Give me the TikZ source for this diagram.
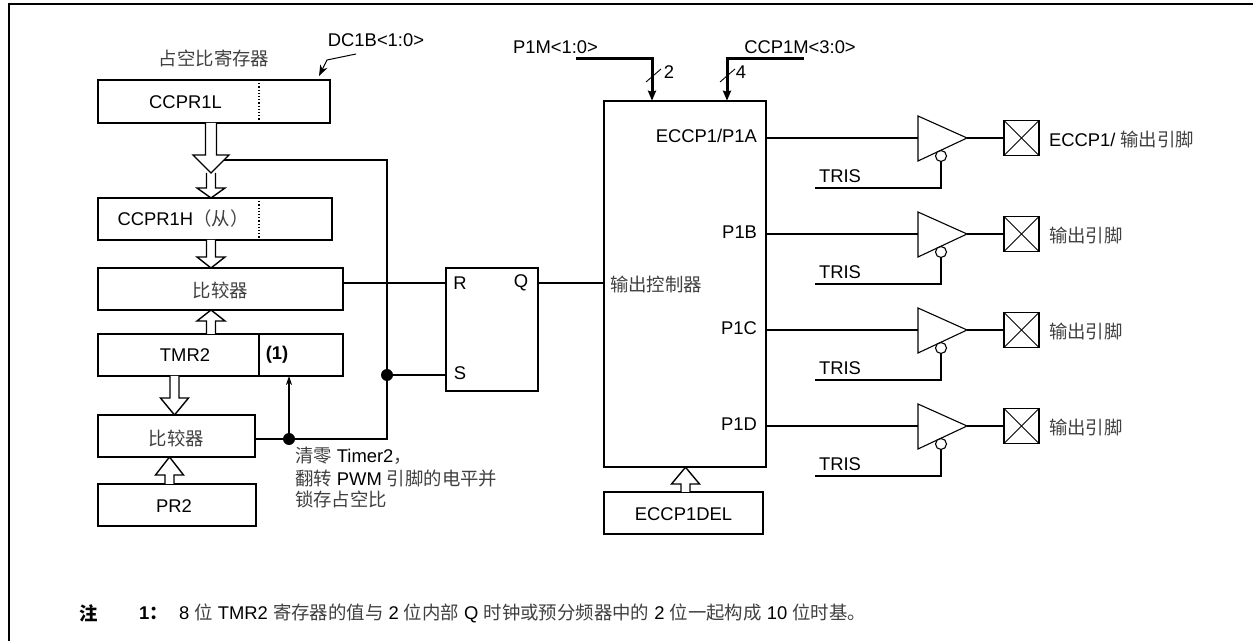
\documentclass[tikz,border=0pt]{standalone}
\usepackage{fontspec}
\usetikzlibrary{arrows.meta}
\setmainfont{Liberation Sans}
\newfontfamily\cjk{Noto Sans CJK SC}
\newcommand{\zh}[1]{{\cjk\color{black!75}#1}}
\newcommand{\basefont}{\fontsize{9.2}{11.25}\selectfont}

\begin{document}
\begin{tikzpicture}[>=stealth, x=0.5pt, y=-0.5pt,
    every node/.style={font=\basefont, inner sep=0pt, outer sep=0pt},
    regbox/.style={draw, line width=0.8pt},
    wire/.style={line width=0.8pt},
    bus/.style={line width=1.5pt},
    thinline/.style={line width=0.45pt},
    hollow/.style={draw, fill=white, line width=0.7pt},
    dotnode/.style={circle, fill=black, minimum size=6pt}]

    \useasboundingbox (0,0) rectangle (1253,641);

    % --- 1. 外枠 ---
    \draw[line width=1pt] (9,641) -- (9,4) -- (1253,4);

    % --- 2. レジスタと比較器の箱 ---
    \foreach \nm/\cx/\cy/\w/\h in {ccprl/214/101.5/232/43, ccprh/215/219/234/42,
        cmpa/220.5/289/245/42, tmr/220.5/355/245/42, cmpb/176.5/436/157/42,
        prr/177/505/158/42, ff/492/329.5/92/123, ctrl/685/284/162/366.5, delay/683.5/513/159/42} {
        \node[regbox, minimum width=\w*0.5pt, minimum height=\h*0.5pt] (\nm) at (\cx,\cy) {};
    }
    \draw[line width=0.6pt, densely dotted] (259,0 |- ccprl.north) -- (259,0 |- ccprl.south);
    \draw[line width=0.6pt, densely dotted] (259,0 |- ccprh.north) -- (259,0 |- ccprh.south);
    \draw[wire] (259,0 |- tmr.north) -- (259,0 |- tmr.south);

    % --- 3. 文字 ---
    \node (ccprltxt) at (185.5,102) {CCPR1L};
    \node (ccprhtxt) at (183,219) {CCPR1H\zh{（从）}};
    \node (cmpatxt) at (220.5,290) {\zh{比较器}};
    \node (tmrtxt) at (185,355) {TMR2};
    \node (onetxt) at (277,355) {\textbf{(1)}};
    \node (cmpbtxt) at (176.5,438) {\zh{比较器}};
    \node (prrtxt) at (174,506) {PR2};
    \node (dutytxt) at (214,58) {\zh{占空比寄存器}};
    \node (dctxt) at (376,40) {DC1B<1:0>};
    \node (pmtxt) at (555.5,47) {P1M<1:0>};
    \node (ccpmtxt) at (800,47) {CCP1M<3:0>};
    \node (rtxt) at (460,283) {R};
    \node (stxt) at (460,373) {S};
    \node (qtxt) at (521,283) {Q};
    \node (ctrltxt) at (656,284) {\zh{输出控制器}};
    \node (delaytxt) at (683.5,514) {ECCP1DEL};
    \node (twotxt) at (669,72) {2};
    \node (fourtxt) at (741,72) {4};
    \node[anchor=north west, align=left] (cleartxt) at (295,447) {\zh{清零} Timer2\zh{，}\\[0.3pt]\zh{翻转} PWM \zh{引脚的电平并}\\[-0.7pt]\zh{锁存占空比}};
    \node[anchor=west] (notetxt) at (79,613) {{\cjk\bfseries 注}};
    \node[anchor=west] (numtxt) at (139,613) {\textbf{1}{\cjk\bfseries ：}};
    \node[anchor=west] (bodytxt) at (179,613) {8 \zh{位} TMR2 \zh{寄存器的值与} 2 \zh{位内部} Q \zh{时钟或预分频器中的} 2 \zh{位一起构成} 10 \zh{位时基。}};

    % --- 4. 白抜き矢印 ---
    \coordinate (tipa) at (211,173);
    \foreach \src/\dst/\ax/\yb/\s/\hw in {tipa/ccprh.north/211/188/4.5/14,
        ccprl.south/tipa/211/155/5.5/18,
        ccprh.south/cmpa.north/211/257/4.5/14,
        tmr.north/cmpa.south/211/321/4.5/14,
        tmr.south/cmpb.north/174.5/398/4.5/14,
        prr.north/cmpb.south/169.5/475/4.5/14,
        delay.north/ctrl.south/685.5/484/4.5/14} {
        \pgfmathsetmacro{\sl}{\ax-\s}
        \pgfmathsetmacro{\sr}{\ax+\s}
        \pgfmathsetmacro{\hl}{\ax-\hw}
        \pgfmathsetmacro{\hr}{\ax+\hw}
        \draw[hollow] (\sl,0 |- \src) -- (\sl,\yb) -- (\hl,\yb) -- (\ax,0 |- \dst)
            -- (\hr,\yb) -- (\sr,\yb) -- (\sr,0 |- \src);
    }

    % --- 5. 配線 ---
    \coordinate (headside) at (224,160);
    \coordinate (rin) at (ff.west |- 0,283);
    \coordinate (sin) at (ff.west |- 0,375);
    \coordinate (cmpout) at (cmpb.east |- 0,439);
    \node[dotnode] (joinb) at (289,439) {};
    \node[dotnode] (joins) at (387,375) {};
    \draw[wire] (cmpa.east |- rin) -- (rin);
    \draw[wire] (headside) -- (387,160) -- (joins) -- (387,439) -- (joinb) -- (cmpout);
    \draw[wire] (joins) -- (sin);
    \draw[wire, -{Stealth[length=4.5pt,width=3pt]}] (joinb) -- (289,0 |- tmr.south);
    \draw[wire] (ff.east |- rin) -- (ctrl.west |- rin);

    % --- 6. バス入力 ---
    \coordinate (pmin) at (576,59);
    \coordinate (ccpmin) at (804,59);
    \draw[bus, -{Stealth[length=5pt,width=4pt,inset=0.5pt]}] (pmin) -| (652,0 |- ctrl.north);
    \draw[bus, -{Stealth[length=5pt,width=4pt,inset=0.5pt]}] (ccpmin) -| (727,0 |- ctrl.north);
    \draw[thinline] (646,82) -- (661,69);
    \draw[thinline] (720,82) -- (735,69);
    \coordinate (dcstart) at (356,54);
    \coordinate (dctip) at (319,76);
    \draw[wire, line width=0.5pt, -{Stealth[length=5.5pt,width=4pt]}] (dcstart) -- (327,60) -- (dctip);

    % --- 7. 出力段 ---
    \foreach \n/\y/\pinname/\outname in {a/138/{ECCP1/P1A}/{ECCP1/ \zh{输出引脚}},
        b/234/P1B/\zh{输出引脚}, c/330/P1C/\zh{输出引脚}, d/426/P1D/\zh{输出引脚}} {
        \coordinate (bufin\n) at (918,\y);
        \coordinate (bufout\n) at (967,\y);
        \coordinate (trisend\n) at (815,\y+50);
        \draw[line width=0.55pt] (918,\y-22) -- (bufout\n) -- (918,\y+23) -- cycle;
        \node[draw, line width=0.55pt, fill=white, circle, minimum size=5.5pt] (inv\n) at (941,\y+18) {};
        \node[regbox, minimum size=17.5pt] (pin\n) at (1021.5,\y) {};
        \draw[thinline] (pin\n.north west) -- (pin\n.south east);
        \draw[thinline] (pin\n.south west) -- (pin\n.north east);
        \draw[wire] (ctrl.east |- bufin\n) -- (bufin\n);
        \draw[wire] (bufout\n) -- (pin\n.west);
        \draw[wire] (inv\n.south) |- (trisend\n);
        \node[anchor=east] (pintxt\n) at (757,\y-2) {\pinname};
        \node (tris\n) at (840,\y+38) {TRIS};
        \node[anchor=west] (outtxt\n) at (1049,\y+1) {\outname};
    }

\end{tikzpicture}
\end{document}
